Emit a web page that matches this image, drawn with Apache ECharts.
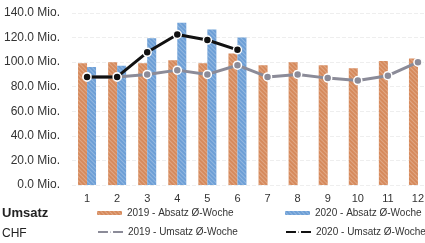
<!DOCTYPE html>
<html>
<head>
<meta charset="utf-8">
<script src="https://cdn.jsdelivr.net/npm/echarts@6/dist/echarts.min.js"></script>
<style>
  html, body { margin: 0; padding: 0; background: #fff; }
  #main { width: 425px; height: 243px; }
</style>
</head>
<body>
<div id="main"></div>
<script>
  var weeks = ['1', '2', '3', '4', '5', '6', '7', '8', '9', '10', '11', '12'];
  var absatz2019 = [99, 100, 99, 101.5, 99, 107, 97.5, 100, 97.5, 95, 101, 103];
  var absatz2020 = [96, 97, 119.5, 132, 126.5, 120];
  var umsatz2019 = [88, 88, 90, 93.5, 90, 97.5, 88, 90, 87, 85, 89, 100];
  var umsatz2020 = [88, 88, 108, 122.5, 118, 110];
  var yTicks = [0, 20, 40, 60, 80, 100, 120, 140];

  var chart = echarts.init(document.getElementById('main'));
  var font = 'Liberation Sans';

  function legendAt(name, left, top) {
    return {
      data: [name], left: left, top: top, itemWidth: 25, itemHeight: 4, itemGap: 2,
      textStyle: { fontFamily: font, fontSize: 10, color: '#333' }, padding: 0
    };
  }

  // faint diagonal hatching like the scanned bars
  var hatch = {
    symbol: 'rect', dashArrayX: [1, 0], dashArrayY: [1, 2],
    rotation: Math.PI / 4, color: 'rgba(255,255,255,0.25)'
  };

  chart.setOption({
    animation: false,
    title: {
      text: 'Umsatz', subtext: 'CHF', left: 2, top: 207, padding: 0, itemGap: 8,
      textStyle: { fontFamily: font, fontSize: 13, fontWeight: 'bold', color: '#222' },
      subtextStyle: { fontFamily: font, fontSize: 12, color: '#222' }
    },
    legend: [
      legendAt('2019 - Absatz Ø-Woche', 97, 208),
      legendAt('2020 - Absatz Ø-Woche', 285, 208),
      legendAt('2019 - Umsatz Ø-Woche', 97, 227),
      legendAt('2020 - Umsatz Ø-Woche', 285, 227)
    ],
    grid: { left: 72, width: 361, top: 13, bottom: 58, containLabel: false, outerBoundsMode: 'none' },
    xAxis: {
      type: 'category', data: weeks,
      axisLine: { show: false }, axisTick: { show: false },
      axisLabel: { fontFamily: font, fontSize: 11, color: '#333', margin: 8 }
    },
    yAxis: {
      type: 'value', min: yTicks[0], max: yTicks[yTicks.length - 1], interval: 20,
      axisLabel: {
        fontFamily: font, fontSize: 12, color: '#333', margin: 12,
        formatter: function (v) { return v.toFixed(1) + ' Mio.'; }
      },
      splitLine: { lineStyle: { color: '#eeeeee', type: 'dashed' } }
    },
    series: [
      {
        name: '2019 - Absatz Ø-Woche', type: 'bar', data: absatz2019,
        barWidth: 9, barGap: '0%', itemStyle: { color: '#d68a5c', decal: hatch }
      },
      {
        name: '2020 - Absatz Ø-Woche', type: 'bar', data: absatz2020,
        barWidth: 9, barGap: '0%', itemStyle: { color: '#6d9fd6', decal: hatch }
      },
      {
        name: '2019 - Umsatz Ø-Woche', type: 'line', data: umsatz2019,
        symbol: 'circle', symbolSize: 8, z: 3,
        lineStyle: { color: '#8b8b98', width: 3 },
        itemStyle: { color: '#8b8b98', borderColor: '#ffffff', borderWidth: 1.5 }
      },
      {
        name: '2020 - Umsatz Ø-Woche', type: 'line', data: umsatz2020,
        symbol: 'circle', symbolSize: 8, z: 4,
        lineStyle: { color: '#111111', width: 3 },
        itemStyle: { color: '#111111', borderColor: '#ffffff', borderWidth: 1.5 }
      }
    ]
  });
</script>
</body>
</html>
